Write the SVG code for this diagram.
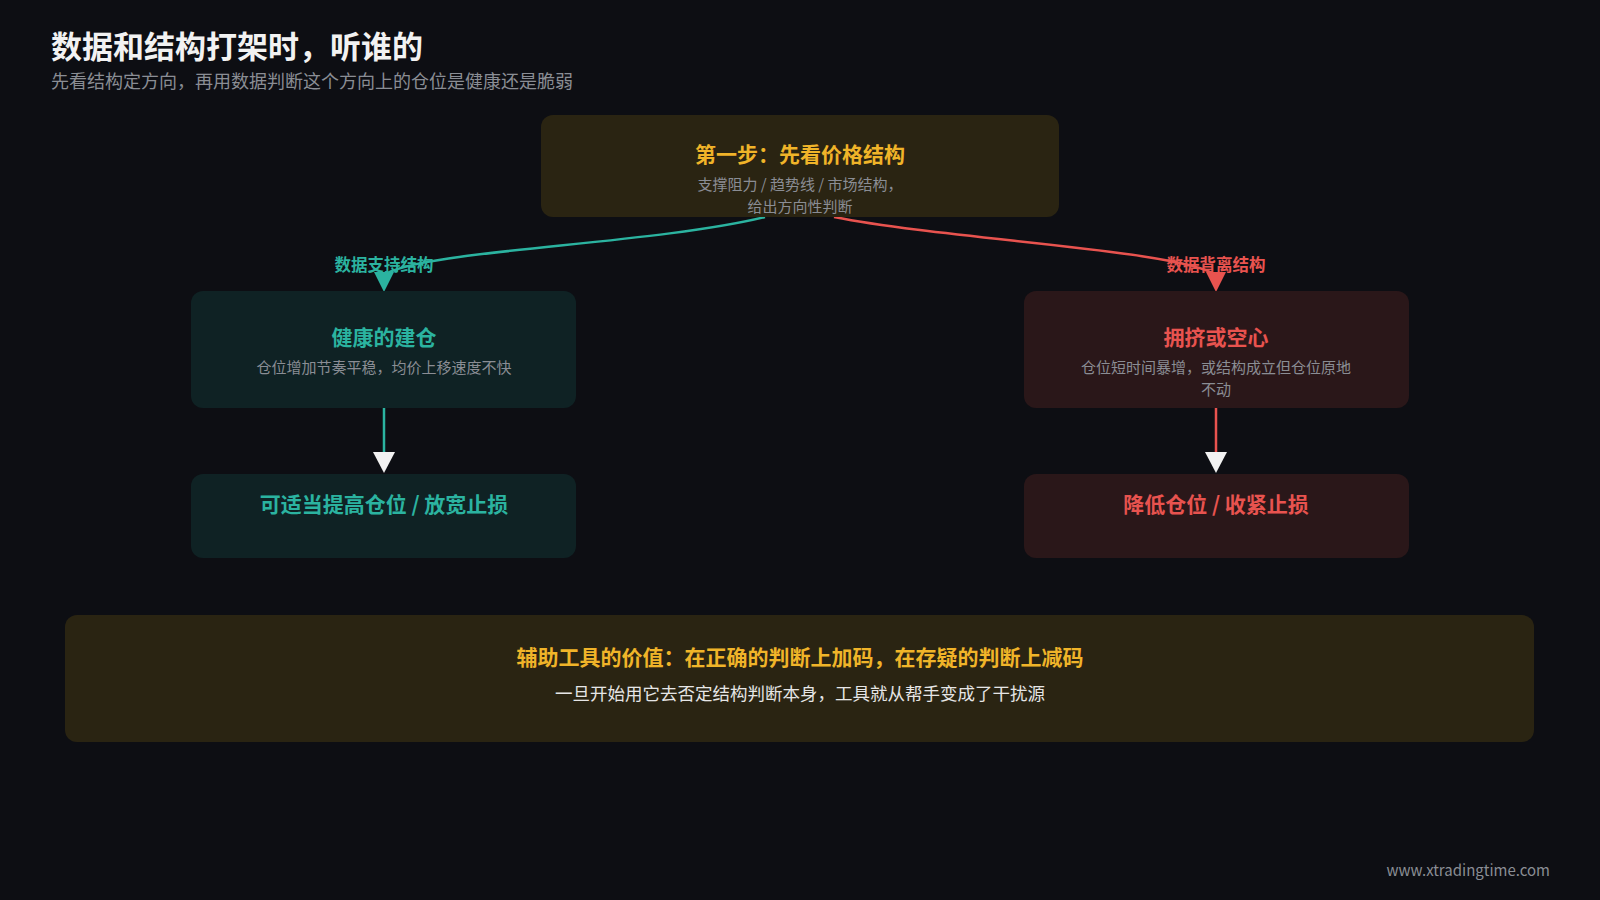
<svg xmlns="http://www.w3.org/2000/svg" width="1600" height="900" viewBox="0 0 1600 900">
<style>
text{font-family:"Noto Sans CJK SC","Noto Sans",sans-serif}
.c{text-anchor:middle}
.sub{fill:#8a8d94;font-size:15px}
.teal{fill:#2bb3a0}
.red{fill:#e8534f}
.yel{fill:#f0b429}
</style>
<rect width="1600" height="900" fill="#0d0e13"/>
<text x="51" y="58" font-size="31" font-weight="700" fill="#f2f2f2">数据和结构打架时，听谁的</text>
<text x="51" y="88" font-size="18" fill="#8a8d94">先看结构定方向，再用数据判断这个方向上的仓位是健康还是脆弱</text>
<g id="connectors" fill="none" stroke-width="2.5">
<path d="M765,217 C650,245 420,250 384,275" stroke="#2bb3a0"/>
<path d="M374,272 L394,272 L384,292 z" fill="#2bb3a0" stroke="none"/>
<path d="M834,217 C950,240 1180,250 1216,275" stroke="#e8534f"/>
<path d="M1206,272 L1226,272 L1216,292 z" fill="#e8534f" stroke="none"/>
<path d="M384,408 L384,452" stroke="#2bb3a0"/>
<path d="M373,452 L395,452 L384,473 z" fill="#f2f2f2" stroke="none"/>
<path d="M1216,408 L1216,452" stroke="#e8534f"/>
<path d="M1205,452 L1227,452 L1216,473 z" fill="#f2f2f2" stroke="none"/>
<text x="384" y="271" class="c teal" font-size="16.5" font-weight="700" stroke="none">数据支持结构</text>
<text x="1216" y="271" class="c red" font-size="16.5" font-weight="700" stroke="none">数据背离结构</text>
</g>
<g id="step1">
<rect x="541" y="115" width="518" height="102" rx="12" fill="#2a2412"/>
<text x="800" y="162" class="c yel" font-size="21" font-weight="700">第一步：先看价格结构</text>
<text x="800" y="190" class="c sub">支撑阻力 / 趋势线 / 市场结构，</text>
<text x="800" y="212" class="c sub">给出方向性判断</text>
</g>
<g id="healthy">
<rect x="191" y="291" width="385" height="117" rx="12" fill="#0f2224"/>
<text x="384" y="345" class="c teal" font-size="21" font-weight="700">健康的建仓</text>
<text x="384" y="373" class="c sub">仓位增加节奏平稳，均价上移速度不快</text>
</g>
<g id="crowded">
<rect x="1024" y="291" width="385" height="117" rx="12" fill="#2a1719"/>
<text x="1216" y="345" class="c red" font-size="21" font-weight="700">拥挤或空心</text>
<text x="1216" y="373" class="c sub">仓位短时间暴增，或结构成立但仓位原地</text>
<text x="1216" y="395" class="c sub">不动</text>
</g>
<g id="increase">
<rect x="191" y="474" width="385" height="84" rx="12" fill="#0f2224"/>
<text x="384" y="512" class="c teal" font-size="21" font-weight="700">可适当提高仓位 / 放宽止损</text>
</g>
<g id="reduce">
<rect x="1024" y="474" width="385" height="84" rx="12" fill="#2a1719"/>
<text x="1216" y="512" class="c red" font-size="21" font-weight="700">降低仓位 / 收紧止损</text>
</g>
<g id="note">
<rect x="65" y="615" width="1469" height="127" rx="12" fill="#2a2412"/>
<text x="800" y="665" class="c yel" font-size="21" font-weight="700">辅助工具的价值：在正确的判断上加码，在存疑的判断上减码</text>
<text x="800" y="700" class="c" font-size="17.5" fill="#e6e6e6">一旦开始用它去否定结构判断本身，工具就从帮手变成了干扰源</text>
</g>
<text x="1550" y="876" text-anchor="end" font-size="15" fill="#8a8d94">www.xtradingtime.com</text>
</svg>
